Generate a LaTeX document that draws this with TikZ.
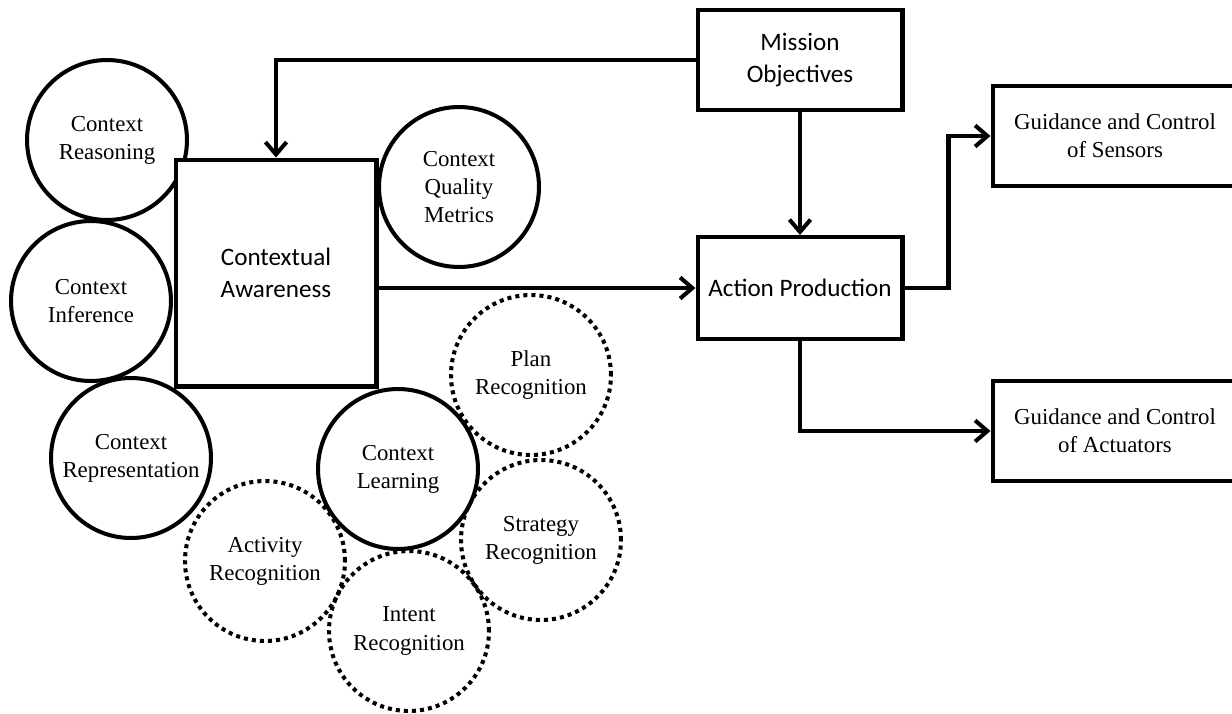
\documentclass[tikz,border=0pt]{standalone}
\usepackage{fontspec}
\setmainfont{Liberation Serif}
\newfontfamily\boxfont{Carlito}
\usetikzlibrary{arrows.meta}
\tikzset{
    block/.style={draw, rectangle, line width=2.3pt, align=center, font=\boxfont\fontsize{14.3}{18}\selectfont},
    ctx/.style={draw, circle, line width=2.3pt, minimum size=3.2cm, inner sep=0pt, align=center, font=\fontsize{13}{16}\selectfont},
    rec/.style={ctx, dash pattern=on 2.3pt off 2.3pt},
    link/.style={line width=2.3pt, -{Straight Barb[length=7pt,width=12pt,line width=2.3pt]}}
}
\begin{document}
\begin{tikzpicture}[x=0.02cm, y=-0.02cm]
    \useasboundingbox (0,0) rectangle (1232,714);
    % context circles
    \node (reason) [ctx] at (107, 140) {Context\\Reasoning};
    \node (infer) [ctx] at (91, 301) {Context\\Inference};
    \node (repr) [ctx] at (131, 458) {Context\\Representation};
    \node (quality) [ctx] at (459, 187) {Context\\Quality\\Metrics};
    \node (plan) [rec] at (531, 375) {Plan\\Recognition};
    \node (strategy) [rec] at (541, 540) {Strategy\\Recognition};
    \node (activity) [rec] at (265, 561) {Activity\\Recognition};
    \node (intent) [rec] at (409, 631) {Intent\\Recognition};
    \node (learn) [ctx, fill=white] at (398, 469) {Context\\Learning};

    % boxes
    \node (aware) [block, fill=white, minimum width=4.02cm, minimum height=4.54cm] at (276, 273) {Contextual\\Awareness};
    \node (mission) [block, minimum width=4.1cm, minimum height=2cm] at (800, 60) {Mission\\Objectives};
    \node (action) [block, minimum width=4.1cm, minimum height=2.04cm] at (800, 288) {Action Production};
    \node (sensors) [block, font=\fontsize{13}{16}\selectfont, minimum width=4.9cm, minimum height=2cm] at (1115, 136) {Guidance and Control\\of Sensors};
    \node (actuators) [block, font=\fontsize{13}{16}\selectfont, minimum width=4.9cm, minimum height=2cm] at (1115, 431) {Guidance and Control\\of Actuators};

    \draw[link] (mission.west) -| (aware.north);
    \draw[link] (mission) -- (action);
    \draw[link] (aware.east |- action.west) -- (action.west);
    \draw[link] (action.east) -- ++(44, 0) |- (sensors.west);
    \draw[link] (action.south) |- (actuators.west);
\end{tikzpicture}
\end{document}
